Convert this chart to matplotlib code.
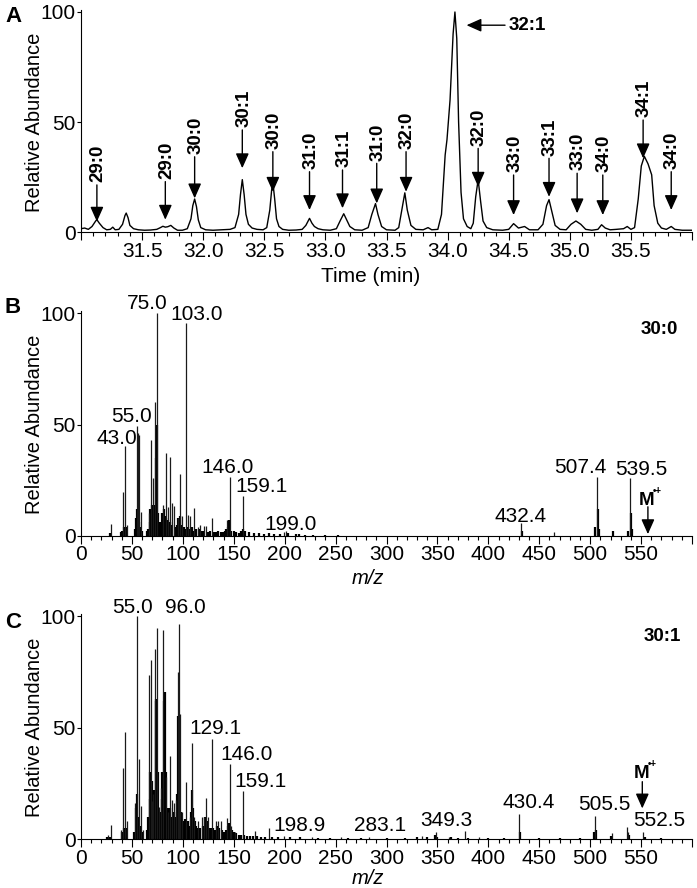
import matplotlib
matplotlib.use("Agg")
import matplotlib.pyplot as plt
from matplotlib.ticker import MultipleLocator, FixedLocator
import numpy as np

plt.rcParams['font.family'] = ['Liberation Sans', 'DejaVu Sans']

# ---------------- Panel A: chromatogram trace (time min, relative abundance) ----------
A_time = [31.00, 31.03, 31.06, 31.09, 31.12, 31.13, 31.15, 31.18, 31.21, 31.24, 31.26, 31.28,
          31.31, 31.34, 31.36, 31.37, 31.385, 31.40, 31.43, 31.47, 31.52, 31.57, 31.62, 31.65,
          31.67, 31.69, 31.71, 31.735, 31.76, 31.79, 31.83, 31.87, 31.90, 31.915, 31.93, 31.945,
          31.96, 31.98, 32.02, 32.08, 32.15, 32.22, 32.26, 32.29, 32.305, 32.32, 32.335, 32.35,
          32.37, 32.40, 32.44, 32.49, 32.52, 32.545, 32.56, 32.57, 32.585, 32.60, 32.62, 32.65,
          32.70, 32.76, 32.81, 32.84, 32.87, 32.89, 32.91, 32.94, 32.98, 33.04, 33.09, 33.12,
          33.15, 33.17, 33.20, 33.24, 33.30, 33.35, 33.38, 33.41, 33.43, 33.46, 33.50, 33.57,
          33.60, 33.625, 33.65, 33.67, 33.70, 33.74, 33.80, 33.84, 33.87, 33.92, 33.95, 33.98,
          33.995, 34.02, 34.045, 34.06, 34.075, 34.09, 34.11, 34.13, 34.16, 34.19, 34.21, 34.23,
          34.25, 34.27, 34.29, 34.32, 34.37, 34.45, 34.50, 34.54, 34.58, 34.63, 34.67, 34.74,
          34.78, 34.81, 34.83, 34.85, 34.88, 34.92, 34.97, 35.01, 35.05, 35.09, 35.13, 35.18,
          35.23, 35.26, 35.29, 35.33, 35.38, 35.44, 35.47, 35.50, 35.53, 35.56, 35.585, 35.61,
          35.64, 35.67, 35.69, 35.72, 35.75, 35.79, 35.83, 35.86, 35.92, 36.00]
A_abund = [1.5, 1.8, 1.2, 2.5, 5.0, 5.6, 4.0, 2.0, 1.0, 1.2, 2.2, 1.0,
           1.2, 3.5, 7.5, 8.6, 6.5, 3.0, 1.5, 1.0, 0.8, 0.9, 1.2, 2.0,
           2.6, 2.2, 2.4, 3.0, 1.8, 0.8, 0.8, 1.5, 6.0, 12.0, 15.0, 11.5,
           5.5, 2.0, 1.0, 0.8, 1.0, 1.2, 2.0, 8.0, 17.0, 23.8, 17.0, 8.0,
           3.5, 1.8, 1.2, 1.0, 2.0, 10.0, 19.0, 22.6, 15.0, 6.0, 2.5, 1.2,
           0.8, 0.9, 1.2, 3.0, 6.2, 4.0, 2.5, 1.5, 1.0, 0.8, 1.5, 5.0,
           8.3, 6.0, 2.5, 1.0, 0.8, 2.0, 8.0, 12.9, 8.0, 2.5, 1.0, 0.8,
           2.0, 10.0, 17.8, 10.0, 3.0, 1.2, 1.0, 2.0, 1.0, 1.2, 8.0, 35.0,
           42.0, 60.0, 90.0, 100.0, 88.0, 50.0, 18.0, 6.0, 2.5, 1.5, 4.0, 16.0,
           23.8, 14.0, 5.0, 2.0, 1.0, 0.8, 1.2, 3.8, 1.8, 2.5, 1.0, 1.0,
           3.5, 12.0, 14.7, 10.0, 3.0, 1.2, 1.0, 3.5, 5.0, 3.5, 1.2, 0.8,
           1.2, 3.3, 1.8, 1.0, 1.2, 1.5, 2.5, 1.2, 2.0, 15.0, 30.0, 34.4,
           31.0, 26.0, 12.0, 4.0, 1.8, 1.2, 2.5, 1.2, 0.8, 0.8]

# peak annotations: label, time, arrow tip (%), arrow tail (%)
A_labels = ['29:0', '29:0', '30:0', '30:1', '30:0', '31:0', '31:1', '31:0', '32:0', '32:0',
            '33:0', '33:1', '33:0', '34:0', '34:1', '34:0']
A_label_time = [31.13, 31.69, 31.93, 32.32, 32.57, 32.87, 33.14, 33.42, 33.66, 34.25,
                34.54, 34.83, 35.06, 35.27, 35.60, 35.83]
A_arrow_tip = [4.7, 5.6, 15.3, 29.0, 18.3, 10.0, 10.8, 13.0, 18.3, 20.6,
               7.7, 16.0, 8.5, 7.7, 33.5, 10.0]
A_arrow_tail = [21.4, 22.9, 34.2, 46.4, 36.5, 27.4, 28.2, 31.2, 36.5, 38.0,
                25.9, 33.5, 26.7, 25.9, 50.9, 27.4]
A_xtick_labels = ['', '31.5', '32.0', '32.5', '33.0', '33.5', '34.0', '34.5', '35.0', '35.5', '']

# ---------------- Panel B: mass spectrum 30:0 -------------------------------------------
B_major = [(29, 5.3), (41, 19.5), (43, 40.3), (45, 5), (55, 49.5), (56, 46), (57, 45.5),
           (59, 10.7), (67, 10), (69, 43), (71, 25.8), (73, 60), (75, 100), (81, 13.8),
           (83, 37), (85, 13), (87, 35.3), (89, 14.6), (91, 13.5), (95, 8), (97, 27.6),
           (99, 9), (103, 95.5), (105, 9.3), (107, 9), (111, 12.6), (115, 4), (117, 5),
           (121, 4.5), (123, 4.5), (129, 8), (143, 7), (146, 26.5), (159, 17.8), (199, 1.5),
           (201, 2), (432, 5.5), (464, 1.5), (507, 26.5), (539, 25.8)]
B_minor = [(28, 1), (39, 1.5), (40, 2), (42, 4), (44, 4), (53, 3), (54, 8), (55.3, 12),
           (56.3, 12), (57.3, 6), (58, 4), (60, 2), (65, 2), (66, 3), (67.3, 6), (68, 12),
           (69.3, 14), (70, 12), (71.3, 10), (72, 14), (73.3, 35), (74.3, 50), (75.3, 10),
           (77, 6), (79, 6), (80, 10), (81.3, 12), (82, 9), (83.3, 8), (84, 6), (85.3, 7),
           (86, 5), (87.3, 6), (88, 4), (89.3, 5), (93, 4), (94, 5), (95.3, 8), (96, 7),
           (97.3, 9), (98, 5), (99.3, 4), (101, 4), (102, 3), (104, 3), (105.3, 4), (106, 3),
           (108, 3), (109, 4), (110, 2), (112, 2), (113, 3), (116, 3), (119, 2), (120, 2),
           (125, 1.5), (127, 2), (131, 1.5), (133, 1.5), (135, 2), (137, 1.5), (139, 1.5),
           (141, 2), (142, 3), (144, 4), (145.3, 7), (147, 2), (150, 2), (152, 1.5), (155, 1),
           (157, 2), (159.3, 3), (161, 2), (165, 1.5), (170, 1), (175, 1), (180, 0.8),
           (185, 1), (190, 0.8), (195, 0.6), (203, 1), (211, 0.8), (214, 0.8), (220, 0.5),
           (228, 0.5), (240, 0.5), (252, 0.5), (433, 2), (505, 4), (508, 12), (509, 3),
           (522, 2), (537, 2), (540, 10), (541, 3)]
B_labels = ['75.0', '103.0', '55.0', '43.0', '146.0', '159.1', '199.0', '432.4', '507.4', '539.5']
B_label_mz = [65, 113.5, 49.7, 35, 143.9, 177, 205.4, 431.5, 490, 549.9]
B_label_y = [101.8, 97, 51.3, 41.1, 28.3, 19.5, 2.5, 6.3, 28, 27.3]

# ---------------- Panel C: mass spectrum 30:1 -------------------------------------------
C_major = [(27, 2), (29, 6.3), (39, 4), (41, 31.7), (43, 48), (45, 8), (53, 16), (55, 100),
           (57, 36), (59, 15), (61, 4), (67, 73.5), (69, 80.3), (70, 17), (71, 20), (73, 85),
           (75, 94.5), (77, 14.5), (79, 23), (81, 93.7), (83, 28), (85, 12), (87, 37.2),
           (89, 17.5), (91, 16.3), (93, 17.5), (95, 75), (96, 96.3), (97, 56), (99, 12),
           (103, 25.4), (107, 10), (109, 43.2), (111, 10), (115, 8), (119, 10), (121, 10),
           (123, 18.2), (125, 10), (129, 44.8), (133, 8), (135, 8), (137, 8), (143, 9.5),
           (146, 33.6), (147, 6), (151, 3), (159, 21.5), (171, 3.5), (185, 4.8), (199, 1.2),
           (227, 1), (255, 1), (283, 1), (335, 1.5), (349, 3.3), (361, 1), (377, 3.5),
           (391, 0.8), (430, 11), (505, 10.3), (521, 2.5), (536, 5.5), (537, 3), (552, 3)]
C_minor = [(26, 1), (28, 1), (40, 3), (42, 5), (44, 5), (52, 3), (54, 14), (55.3, 20),
           (56, 10), (58, 6), (60, 3), (65, 4), (66, 10), (67.3, 30), (68, 18), (69.3, 26),
           (70.3, 12), (71.3, 12), (72, 22), (73.3, 62), (74, 63), (75.3, 30), (76, 10),
           (78, 12), (79.3, 18), (80, 30), (81.3, 62), (82, 66), (83.3, 30), (84, 12),
           (85.3, 14), (86, 12), (87.3, 14), (88, 10), (90, 10), (91.3, 12), (93.3, 10),
           (94, 20), (95.3, 55), (96.3, 40), (98, 12), (100, 8), (101, 6), (102, 9), (104, 6),
           (105, 8), (106, 6), (108, 12), (109.3, 22), (110, 14), (112, 8), (113, 6), (114, 5),
           (117, 5), (120, 6), (122, 10), (124, 8), (126, 5), (128, 5), (130, 5), (132, 4),
           (134, 6), (136, 5), (138, 4), (140, 3), (142, 4), (144, 6), (145.3, 7), (148, 4),
           (150, 3), (152, 2.5), (155, 2), (157, 2), (160, 2), (163, 1.5), (166, 1.5),
           (169, 1.5), (173, 1.2), (177, 1), (181, 1), (188, 1), (193, 0.8), (205, 0.8),
           (215, 0.8), (233, 0.6), (245, 0.6), (262, 0.6), (275, 0.5), (300, 0.5), (318, 0.5),
           (330, 0.8), (340, 0.8), (348, 2), (350, 1), (363, 0.8), (370, 0.6), (380, 0.6),
           (400, 0.4), (415, 0.4), (431, 3), (450, 0.4), (470, 0.4), (490, 0.4), (504, 3),
           (506, 4), (520, 1.5), (538, 2), (554, 0.8), (570, 0.4)]
C_labels = ['55.0', '96.0', '129.1', '146.0', '159.1', '198.9', '283.1', '349.3', '430.4',
            '505.5', '552.5']
C_label_mz = [51, 102.4, 132.5, 162.6, 176, 214.3, 293.4, 359.2, 439.6, 513.9, 567.5]
C_label_y = [101.2, 101.2, 47.1, 35.4, 23.5, 3.7, 3.7, 6.0, 13.8, 13.0, 5.8]

MS_xtick_labels = ['0', '50', '100', '150', '200', '250', '300', '350', '400', '450', '500',
                   '550', '']

# ---------------- figure ----------------------------------------------------------------
W, H = 697, 888
fig = plt.figure(figsize=(W / 100, H / 100), dpi=100)


def frac_axes(left_px, right_px, y0_px, ytop_px):
    return fig.add_axes([left_px / W, 1 - y0_px / H, (right_px - left_px) / W,
                         (y0_px - ytop_px) / H])


TICK_FS = 15


def style(ax):
    for s in ('top', 'right'):
        ax.spines[s].set_visible(False)
    for s in ('left', 'bottom'):
        ax.spines[s].set_linewidth(0.8)
    ax.set_ylim(0, 101)
    ax.set_yticks([0, 50, 100])
    ax.tick_params(axis='y', which='major', length=3, width=0.8, pad=1, labelsize=TICK_FS)
    ax.tick_params(axis='x', which='major', length=5.5, width=0.8, pad=1.5, labelsize=TICK_FS)
    ax.tick_params(axis='x', which='minor', length=3, width=0.8)
    ax.patch.set_alpha(0)


# Panel A
axA = frac_axes(81, 692, 232, 232 - 2.2 * 101)
style(axA)
axA.plot(A_time, A_abund, color='black', lw=1.0)
axA.set_xlim(31.0, 36.0)
axA.xaxis.set_major_locator(FixedLocator(np.arange(31.0, 36.01, 0.5)))
axA.set_xticklabels(A_xtick_labels)
axA.xaxis.set_minor_locator(MultipleLocator(0.1))
arrow_kw = dict(arrowstyle='-|>,head_length=0.45,head_width=0.2', color='black', lw=1.0,
                shrinkA=0, shrinkB=0, mutation_scale=20)
for lab, t, tip, tail in zip(A_labels, A_label_time, A_arrow_tip, A_arrow_tail):
    axA.annotate('', xy=(t, tip), xytext=(t, tail), arrowprops=arrow_kw)
    axA.annotate(lab, xy=(t, tail), xytext=(1, 2), textcoords='offset points', rotation=90,
                 rotation_mode='anchor', ha='left', va='center', fontsize=13.5,
                 fontweight='bold')
axA.annotate('', xy=(34.155, 94), xytext=(34.47, 94), arrowprops=arrow_kw)
axA.text(34.50, 94, '32:1', ha='left', va='center', fontsize=13.5, fontweight='bold')


def spectrum(ax, major, minor):
    mz_mi = [p[0] for p in minor]
    in_mi = [p[1] for p in minor]
    mz_ma = [p[0] for p in major]
    in_ma = [p[1] for p in major]
    ax.vlines(mz_mi, 0, in_mi, colors='black', lw=1.6)
    ax.vlines(mz_ma, 0, in_ma, colors='#1a1a1a', lw=0.9)
    ax.set_xlim(0, 600)
    ax.xaxis.set_major_locator(FixedLocator(np.arange(0, 601, 50)))
    ax.set_xticklabels(MS_xtick_labels)
    ax.xaxis.set_minor_locator(MultipleLocator(10))


def m_radical(ax, x, tip, tail, ytext):
    ax.annotate('', xy=(x, tip), xytext=(x, tail), arrowprops=arrow_kw)
    ax.text(x - 1, ytext, 'M', ha='center', va='baseline', fontsize=13.5, fontweight='bold')
    ax.annotate('\u2022+', xy=(x + 5, ytext + 5), ha='left', va='baseline', fontsize=7,
                fontweight='bold')


# Panel B
axB = frac_axes(81, 692, 535.7, 535.7 - 2.224 * 101)
style(axB)
spectrum(axB, B_major, B_minor)
for lab, x, y in zip(B_labels, B_label_mz, B_label_y):
    axB.text(x, y, lab, ha='center', va='baseline', fontsize=15)
m_radical(axB, 556.7, 0.7, 13.0, 13.8)
axB.text(568, 92.6, '30:0', ha='center', va='center', fontsize=13.5, fontweight='bold')

# Panel C
axC = frac_axes(81, 692, 839, 839 - 2.23 * 101)
style(axC)
spectrum(axC, C_major, C_minor)
for lab, x, y in zip(C_labels, C_label_mz, C_label_y):
    axC.text(x, y, lab, ha='center', va='baseline', fontsize=15)
m_radical(axC, 551.2, 13.7, 25.7, 27.2)
axC.text(570.8, 91, '30:1', ha='center', va='center', fontsize=13.5, fontweight='bold')

# axis titles
for yc in (122, 424.5, 727.5):
    fig.text(34.5 / W, 1 - yc / H, 'Relative Abundance', rotation=90, ha='center',
             va='center', fontsize=14.5)
fig.text(371 / W, 1 - 276 / H, 'Time (min)', ha='center', va='center', fontsize=15)
fig.text(368 / W, 1 - 578 / H, 'm/z', ha='center', va='center', fontsize=14.5, style='italic')
fig.text(368 / W, 1 - 878 / H, 'm/z', ha='center', va='center', fontsize=14.5, style='italic')

# panel letters
for lab, yb in (('A', 22), ('B', 313), ('C', 628)):
    fig.text(5 / W, 1 - yb / H, lab, ha='left', va='baseline', fontsize=16,
             fontweight='bold')

fig.savefig('out.png', dpi=100)
